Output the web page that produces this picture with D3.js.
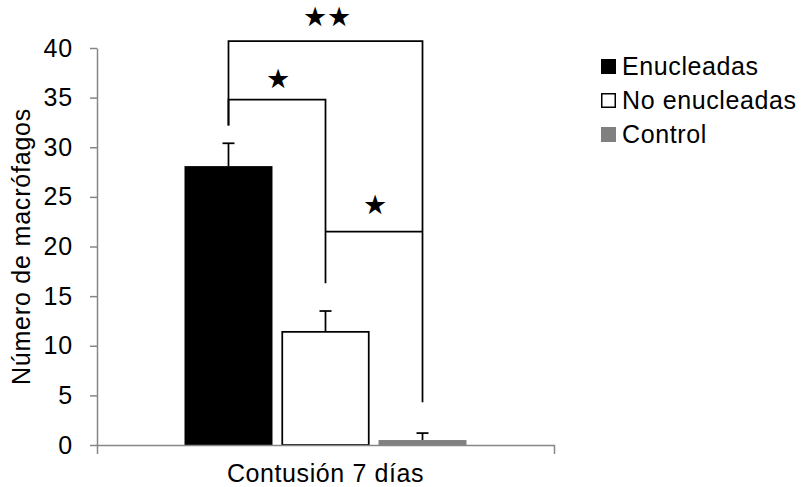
<!DOCTYPE html>
<html>
<head>
<meta charset="utf-8">
<script src="https://cdn.jsdelivr.net/npm/d3@7"></script>
<style>
  html, body { margin: 0; padding: 0; background: #fff; }
  svg { display: block; }
  text { font-family: "Liberation Sans", Arial, sans-serif; fill: #000; }
</style>
</head>
<body>
<svg id="chart" width="801" height="487"></svg>
<script>
// Macrophage counts after 7 days of contusion
const categories = ["Contusión 7 días"];
const series = ["Enucleadas", "No enucleadas", "Control"];
const means = [28.1, 11.4, 0.5];
const errorsUp = [2.3, 2.1, 0.7];
const yTicks = [0, 5, 10, 15, 20, 25, 30, 35, 40];
const yTitle = "Número de macrófagos";

// Significance brackets: groups compared, bar height (data units),
// where each leg stops, and the marker text with its height
const bracketFrom   = ["Enucleadas", "Enucleadas", "No enucleadas"];
const bracketTo     = ["Control", "No enucleadas", "Control"];
const bracketLevel  = [40.7, 34.8, 21.5];
const bracketFromEnd = [32.2, 32.2, 21.5];
const bracketToEnd  = [4.3, 16.3, 21.5];
const bracketMark   = ["★★", "★", "★"];
const bracketMarkAt = [43.1, 36.9, 24.2];

const fills = ["#000000", "#ffffff", "#808080"];
const strokes = ["none", "#000000", "none"];

const svg = d3.select("#chart");
const axisColor = "#868686";

const y = d3.scaleLinear().domain([0, 40]).range([445, 48]);
const x0 = d3.scaleBand().domain(categories).range([97, 554]);
const x1 = d3.scaleBand().domain(series).range([0, x0.bandwidth()])
  .paddingInner(0.093).paddingOuter(0.902);

const sx = s => x0(categories[0]) + x1(s);
const cx = s => sx(s) + x1.bandwidth() / 2;

// Bars
const g = svg.append("g");
g.selectAll("rect.bar").data(series).join("rect")
  .attr("class", "bar")
  .attr("x", (s, i) => sx(s) + (strokes[i] === "none" ? 0 : 0.75))
  .attr("width", (s, i) => x1.bandwidth() - (strokes[i] === "none" ? 0 : 1.5))
  .attr("y", (s, i) => y(means[i]))
  .attr("height", (s, i) => y(0) - y(means[i]))
  .attr("fill", (s, i) => fills[i])
  .attr("stroke", (s, i) => strokes[i])
  .attr("stroke-width", 1.75);

// Error bars (upper only)
series.forEach((s, i) => {
  const top = y(means[i] + errorsUp[i]);
  g.append("line")
    .attr("x1", cx(s)).attr("x2", cx(s))
    .attr("y1", y(means[i])).attr("y2", top)
    .attr("stroke", "#000").attr("stroke-width", 1.75);
  g.append("line")
    .attr("x1", cx(s) - 6).attr("x2", cx(s) + 6)
    .attr("y1", top).attr("y2", top)
    .attr("stroke", "#000").attr("stroke-width", 1.75);
});

// Axes
const yAxis = d3.axisLeft(y).tickValues(yTicks).tickSizeInner(7).tickSizeOuter(0).tickPadding(17);
const yg = svg.append("g").attr("transform", "translate(97,0)").call(yAxis);
yg.select(".domain").attr("stroke", axisColor).attr("stroke-width", 1.5);
yg.selectAll(".tick line").attr("stroke", axisColor).attr("stroke-width", 1.5);
yg.selectAll(".tick text")
  .attr("font-size", 25).attr("letter-spacing", 0.8)
  .attr("font-family", "Liberation Sans, Arial, sans-serif").attr("fill", "#000");

const xAxis = d3.axisBottom(x0).tickSizeInner(0).tickSizeOuter(9).tickPadding(19);
const xg = svg.append("g").attr("transform", "translate(0,445)").call(xAxis);
xg.select(".domain").attr("stroke", axisColor).attr("stroke-width", 1.5);
xg.selectAll(".tick line").remove();
xg.selectAll(".tick text")
  .attr("font-size", 25).attr("letter-spacing", 0.6)
  .attr("font-family", "Liberation Sans, Arial, sans-serif").attr("fill", "#000");

// Y axis title
svg.append("text")
  .attr("transform", "translate(30," + (y(0) + y(40)) / 2 + ") rotate(-90)")
  .attr("text-anchor", "middle")
  .attr("font-size", 25).attr("letter-spacing", 0.8)
  .text(yTitle);

// Significance brackets
const bg = svg.append("g");
bracketFrom.forEach((from, i) => {
  const xa = cx(from), xb = cx(bracketTo[i]);
  const lv = y(bracketLevel[i]);
  bg.append("path")
    .attr("d", `M${xa},${y(bracketFromEnd[i])}V${lv}H${xb}V${y(bracketToEnd[i])}`)
    .attr("fill", "none").attr("stroke", "#000").attr("stroke-width", 1.75);
  bg.append("text")
    .attr("x", (xa + xb) / 2 + 1)
    .attr("y", y(bracketMarkAt[i]))
    .attr("text-anchor", "middle")
    .attr("dominant-baseline", "central")
    .attr("font-family", "DejaVu Sans, sans-serif")
    .attr("font-size", 27)
    .text(bracketMark[i]);
});

// Legend
const legend = svg.append("g").attr("transform", "translate(601,0)");
const legendBase = [75, 109, 143];
series.forEach((s, i) => {
  legend.append("rect")
    .attr("x", strokes[i] === "none" ? 0 : 0.75)
    .attr("y", legendBase[i] - 16 + (strokes[i] === "none" ? 0 : 0.75))
    .attr("width", strokes[i] === "none" ? 15 : 13.5)
    .attr("height", strokes[i] === "none" ? 15 : 13.5)
    .attr("fill", fills[i])
    .attr("stroke", strokes[i]).attr("stroke-width", 1.5);
  legend.append("text")
    .attr("x", 21).attr("y", legendBase[i])
    .attr("font-size", 25).attr("letter-spacing", 0.6)
    .text(s);
});
</script>
</body>
</html>
